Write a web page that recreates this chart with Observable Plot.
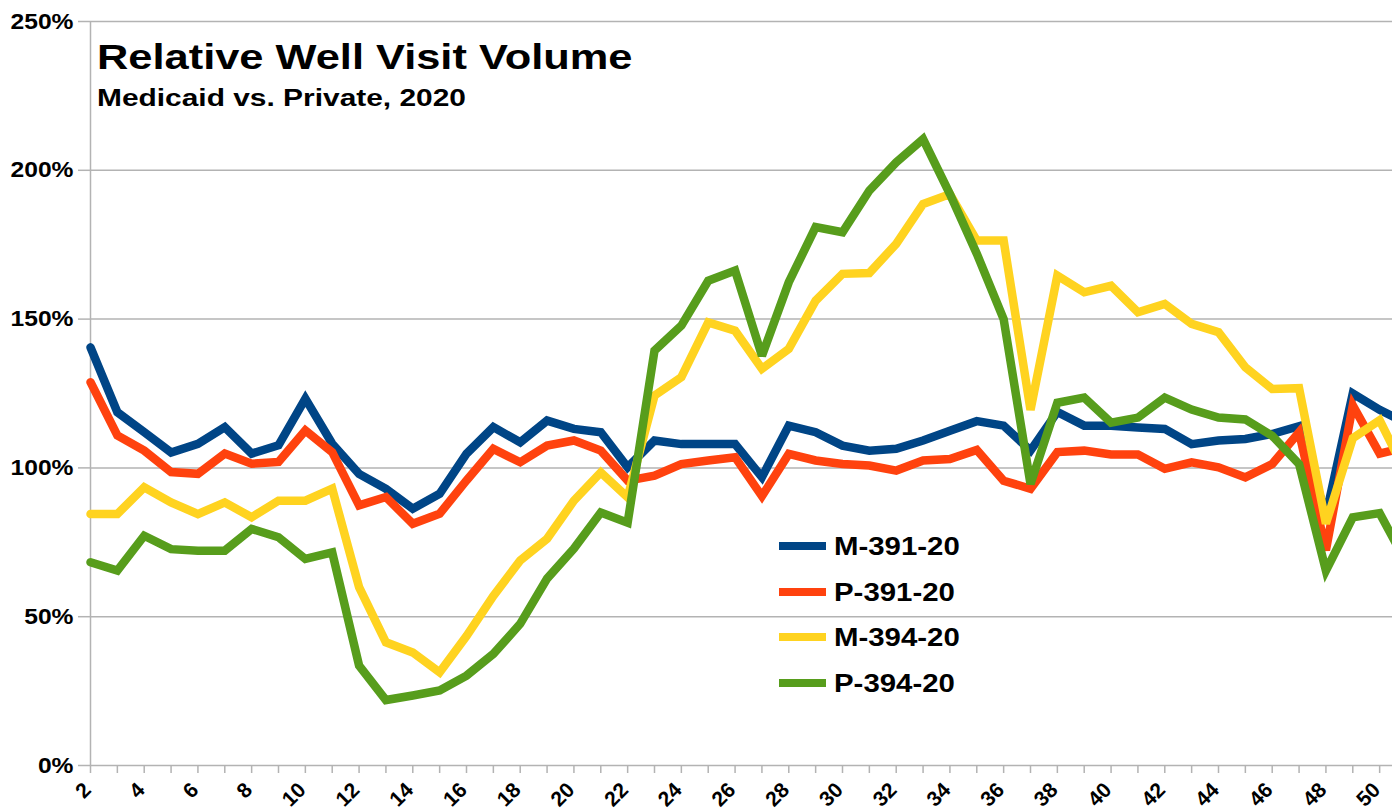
<!DOCTYPE html>
<html>
<head>
<meta charset="utf-8">
<script src="https://cdn.jsdelivr.net/npm/d3@7"></script>
<script src="https://cdn.jsdelivr.net/npm/@observablehq/plot@0.6"></script>
<style>
  html, body { margin: 0; padding: 0; background: #fff; overflow: hidden; }
  #wrap { position: relative; width: 1392px; height: 811px; overflow: hidden; }
  #wrap svg { max-width: none !important; display: block; }
  .ov { position: absolute; font-family: "Liberation Sans", Arial, sans-serif; font-weight: bold; color: #000; white-space: nowrap; transform-origin: 0 0; line-height: 1; }
  .sw { position: absolute; height: 8px; width: 47px; }
</style>
</head>
<body>
<div id="wrap"></div>
<script>
// ---- data (weekly relative volume, %) ----
const weeks = d3.range(2, 52);
const seriesNames = ["M-391-20", "P-391-20", "M-394-20", "P-394-20"];
const seriesColors = ["#004586", "#ff420e", "#ffd320", "#579d1c"];
const m391 = [140.5,118.7,112,105.2,108.1,113.7,104.8,107.6,123.3,108.1,98,93,86.3,91.3,104.8,113.7,108.6,115.9,113.1,112,100.2,109.2,108,108,108,96.9,114.2,112,107.5,105.8,106.4,109.2,112.5,115.7,114.2,105.8,118.8,114.2,114.2,113.6,113.1,108,109.2,109.7,111.4,114,84,125,119.5,115];
const p391 = [128.8,110.9,105.8,98.6,98,104.8,101.4,102,112.6,105.3,87.4,90.2,81.2,84.6,95.8,106.4,101.9,107.5,109.2,105.8,95.7,97.4,101.3,102.5,103.6,90.5,104.7,102.5,101.3,100.8,99.1,102.5,103,106,95.7,93,105.3,105.8,104.5,104.5,99.7,101.9,100.2,96.8,101.3,112,72.3,121,104.8,107];
const m394 = [84.5,84.5,93.5,88.4,84.5,88.4,83.4,89,89,93,59.9,41.4,38,31.3,43.5,57,68.9,76.2,89,98.5,90.1,124.3,130.5,148.9,146.1,133.3,140,156.2,165.2,165.5,175.3,188.7,192,176.4,176.4,119.5,164.6,159,161.2,152.3,155.1,148.4,145.6,133.8,126.5,126.8,81.3,110,116,98];
const p394 = [68.3,65.5,77.2,72.7,72.2,72.2,79.5,76.7,69.4,71.6,33.6,22,23.5,25.2,30.2,37.5,47.6,62.8,72.9,85,81.6,139.4,147.8,162.9,166.3,137.7,162.4,180.9,179.2,193.2,202.7,210.5,192,172,150,94.6,121.9,123.6,115.2,116.9,123.6,119.6,116.9,116.3,110.8,101.3,65.5,83.4,84.8,68];
const yTicks = [0, 50, 100, 150, 200, 250];
const xLabelWeeks = d3.range(2, 52, 2);
const titleText = "Relative Well Visit Volume";
const subtitleText = "Medicaid vs. Private, 2020";

const allSeries = [m391, p391, m394, p394];
const rows = [];
allSeries.forEach((vals, s) => vals.forEach((v, i) => rows.push({week: weeks[i], value: v, series: seriesNames[s]})));

const grid = "#b3b3b3";
const svg = Plot.plot({
  width: 1420,
  height: 811,
  marginLeft: 90,
  marginRight: 14,
  marginTop: 21,
  marginBottom: 46,
  style: {fontFamily: "'Liberation Sans', Arial, sans-serif", color: "#000", background: "#fff", maxWidth: "none", overflow: "visible"},
  x: {domain: [2, 51], label: null},
  y: {domain: [0, 250], label: null},
  color: {domain: seriesNames, range: seriesColors},
  marks: [
    Plot.gridY(yTicks, {stroke: grid, strokeOpacity: 1, strokeWidth: 1.5}),
    Plot.ruleX([2], {stroke: grid, strokeWidth: 1.5}),
    Plot.axisY(yTicks, {tickSize: 12, fill: "none", stroke: grid, strokeWidth: 1.5, label: null}),
    Plot.axisY(yTicks, {tickSize: 0, tickPadding: 17, tickFormat: d => d + "%", fontSize: 22, fontWeight: "bold", fill: "#000", label: null}),
    Plot.axisX(weeks, {tickSize: 8, fill: "none", stroke: grid, strokeWidth: 1.5, label: null}),
    Plot.axisX(xLabelWeeks, {tickSize: 0, tickPadding: 21, tickRotate: -45, fontSize: 21, fontWeight: "bold", fill: "#000", dx: -3, label: null}),
    Plot.line(rows, {x: "week", y: "value", z: "series", stroke: "series", strokeWidth: 8.5, strokeLinejoin: "miter", strokeMiterlimit: 3})
  ]
});
svg.style.maxWidth = "none";
svg.setAttribute("width", 1420);
svg.setAttribute("height", 811);
d3.select(svg).selectAll('g[aria-label="y-axis tick label"] text').attr("transform", function () {
  return (this.getAttribute("transform") || "") + " scale(1.12,1)";
});
const wrap = document.getElementById("wrap");
wrap.appendChild(svg);

function addText(txt, left, baseline, size, sx) {
  const d = document.createElement("div");
  d.className = "ov";
  d.textContent = txt;
  d.style.left = left + "px";
  d.style.top = (baseline - 0.8465 * size) + "px";
  d.style.fontSize = size + "px";
  d.style.transform = `scaleX(${sx})`;
  wrap.appendChild(d);
}
addText(titleText, 97, 68.5, 35, 1.24);
addText(subtitleText, 97, 106, 23, 1.3);

const legendY = [546, 591.5, 637, 682.5];
seriesNames.forEach((name, i) => {
  const sw = document.createElement("div");
  sw.className = "sw";
  sw.style.left = "779px";
  sw.style.top = (legendY[i] - 4) + "px";
  sw.style.background = seriesColors[i];
  wrap.appendChild(sw);
  addText(name, 834, legendY[i] + 0.358 * 26, 26, 1.13);
});
</script>
</body>
</html>
